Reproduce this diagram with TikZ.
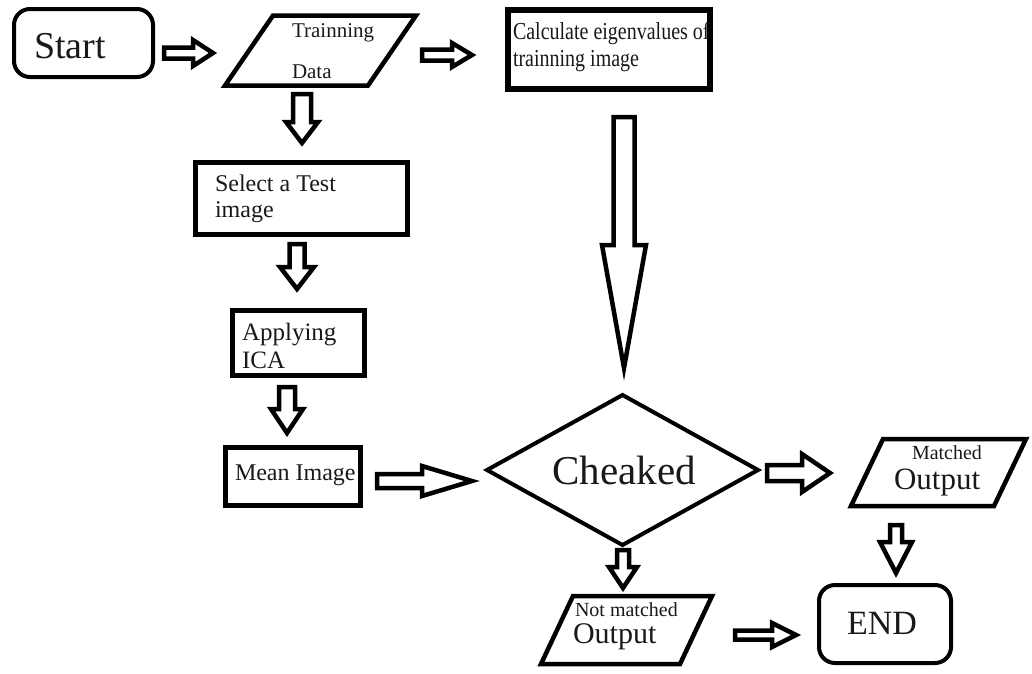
\documentclass[tikz,border=0pt]{standalone}
\usepackage{fontspec}
\setmainfont{Liberation Serif}
\usetikzlibrary{calc}
\tikzset{
  box/.style={draw, rectangle, outer sep=0pt, inner sep=0pt},
  ghost/.style={rectangle, outer sep=0pt, inner sep=0pt},
  txt/.style={inner sep=0pt, outer sep=0pt, anchor=base west, text=black!90},
  blockarr/.style={draw, line width=4.5pt, line join=miter, fill=white},
  shapeline/.style={draw, line width=4.5pt, line join=miter},
}
% right-pointing block arrow: #1 start, #2 tip, #3 shaft half width, #4 head half width, #5 head length
\newcommand\blockR[5]{%
  \draw[blockarr] ($(#1)+(0,-#3)$) -- ($(#2)+(-#5,-#3)$) -- ($(#2)+(-#5,-#4)$) -- (#2)
    -- ($(#2)+(-#5,#4)$) -- ($(#2)+(-#5,#3)$) -- ($(#1)+(0,#3)$) -- cycle;}
% down-pointing block arrow
\newcommand\blockD[5]{%
  \draw[blockarr] ($(#1)+(-#3,0)$) -- ($(#2)+(-#3,-#5)$) -- ($(#2)+(-#4,-#5)$) -- (#2)
    -- ($(#2)+(#4,-#5)$) -- ($(#2)+(#3,-#5)$) -- ($(#1)+(#3,0)$) -- cycle;}
\newcommand\tallbox[1]{\scalebox{1}[1.22]{#1}}
\begin{document}
\begin{tikzpicture}[x=1pt,y=-1pt]
\useasboundingbox (0,0) rectangle (1032,673);

% ---- nodes ----
\node[box, line width=4pt, rounded corners=16pt, minimum width=139pt, minimum height=68pt] (start) at (83.5,43) {};
\node[txt, font=\fontsize{38}{40}\selectfont] (startT) at (34,58) {Start};

\node[ghost, minimum width=191pt, minimum height=70pt] (train) at (320.5,50.5) {};
\draw[shapeline] (train.south west) -- ($(train.north west)+(48,0)$) -- (train.north east) -- ($(train.south east)+(-48,0)$) -- cycle;
\node[txt, font=\fontsize{21}{24}\selectfont] (trainT1) at (292,37) {Trainning};
\node[txt, font=\fontsize{21}{24}\selectfont] (trainT2) at (292,78) {Data};

\node[box, line width=6pt, minimum width=202pt, minimum height=79pt] (calc) at (609,49.5) {};
\node[txt, font=\fontsize{20}{24}\selectfont] (calcT1) at (513,39) {\tallbox{Calculate eigenvalues of}};
\node[txt, font=\fontsize{20}{24}\selectfont] (calcT2) at (513,66) {\tallbox{trainning image}};

\node[box, line width=5pt, minimum width=212pt, minimum height=72pt] (select) at (301.5,198.5) {};
\node[txt, font=\fontsize{24}{26}\selectfont] (selectT1) at (215,191) {Select a Test};
\node[txt, font=\fontsize{24}{26}\selectfont] (selectT2) at (215,217) {image};

\node[box, line width=5pt, minimum width=132pt, minimum height=65pt] (apply) at (298.5,343) {};
\node[txt, font=\fontsize{25}{28}\selectfont] (applyT1) at (242,340) {Applying};
\node[txt, font=\fontsize{25}{28}\selectfont] (applyT2) at (242,368) {ICA};

\node[box, line width=5pt, minimum width=135pt, minimum height=58pt] (mean) at (293,476.5) {};
\node[txt, font=\fontsize{24}{26}\selectfont] (meanT) at (235,480) {Mean Image};

\node[ghost, minimum width=271pt, minimum height=150pt] (ch) at (622.5,470) {};
\draw[shapeline, line width=4pt] (ch.west) -- (ch.north) -- (ch.east) -- (ch.south) -- cycle;
\node[txt, anchor=base, font=\fontsize{41}{44}\selectfont] (chT) at (624,484) {Cheaked};

\node[ghost, minimum width=175pt, minimum height=67pt] (matched) at (938.5,472.5) {};
\draw[shapeline] (matched.south west) -- ($(matched.north west)+(32,0)$) -- (matched.north east) -- ($(matched.south east)+(-32,0)$) -- cycle;
\node[txt, font=\fontsize{20}{22}\selectfont] (matchedT1) at (912,459) {Matched};
\node[txt, font=\fontsize{31}{33}\selectfont] (matchedT2) at (894,489) {Output};

\node[box, line width=4pt, rounded corners=16pt, minimum width=132pt, minimum height=78pt] (end) at (885,624) {};
\node[txt, anchor=base, font=\fontsize{34}{36}\selectfont] (endT) at (882,634) {END};

\node[ghost, minimum width=171pt, minimum height=68pt] (notm) at (626.5,630) {};
\draw[shapeline] (notm.south west) -- ($(notm.north west)+(32,0)$) -- (notm.north east) -- ($(notm.south east)+(-32,0)$) -- cycle;
\node[txt, font=\fontsize{20}{22}\selectfont] (notmT1) at (575,616) {Not matched};
\node[txt, font=\fontsize{30}{32}\selectfont] (notmT2) at (573,643) {Output};

% ---- connector end points ----
\coordinate (a1s) at ($(start.east)+(11,10)$);
\coordinate (a1t) at ($(train.west)+(-12,2.5)$);
\coordinate (a2s) at ($(train.east)+(6,4.5)$);
\coordinate (a2t) at ($(calc.west)+(-36,5.5)$);
\coordinate (a3s) at ($(train.south)+(-18.5,8.5)$);
\coordinate (a3t) at ($(select.north)+(0.5,-19.5)$);
\coordinate (a4s) at ($(select.south)+(-4.5,9.5)$);
\coordinate (a4t) at ($(apply.north)+(-1.5,-21.5)$);
\coordinate (a5s) at ($(apply.south)+(-11.5,11.5)$);
\coordinate (a5t) at ($(mean.north)+(-6,-14.5)$);
\coordinate (a6s) at ($(mean.east)+(16.5,4.5)$);
\coordinate (a6t) at ($(ch.west)+(-15,11)$);
\coordinate (a7s) at ($(calc.south)+(15,28)$);
\coordinate (a7t) at ($(ch.north)+(1.5,-27)$);
\coordinate (a8s) at ($(ch.east)+(9,3)$);
\coordinate (a8t) at ($(matched.west)+(-21,0.5)$);
\coordinate (a9s) at ($(matched.south)+(-42.5,19)$);
\coordinate (a9t) at ($(end.north)+(11,-12)$);
\coordinate (a10s) at ($(ch.south)+(0.5,5)$);
\coordinate (a10t) at ($(notm.north)+(-3.5,-8)$);
\coordinate (a11s) at ($(notm.east)+(23,5)$);
\coordinate (a11t) at ($(end.west)+(-23,11)$);

% ---- block arrows ----
\blockR{a1s}{a1t}{5.5}{13}{20}
\blockR{a2s}{a2t}{5.5}{12}{20}
\blockD{a3s}{a3t}{9}{16}{21}
\blockD{a4s}{a4t}{7.5}{17}{22}
\blockD{a5s}{a5t}{8}{16}{24}
\blockR{a6s}{a6t}{7}{15}{50}
\blockD{a7s}{a7t}{10.5}{22}{123}
\blockR{a8s}{a8t}{8}{19}{28}
\blockD{a9s}{a9t}{6}{16}{31}
\blockD{a10s}{a10t}{6}{14}{21}
\blockR{a11s}{a11t}{4.5}{12}{24}
\end{tikzpicture}
\end{document}
